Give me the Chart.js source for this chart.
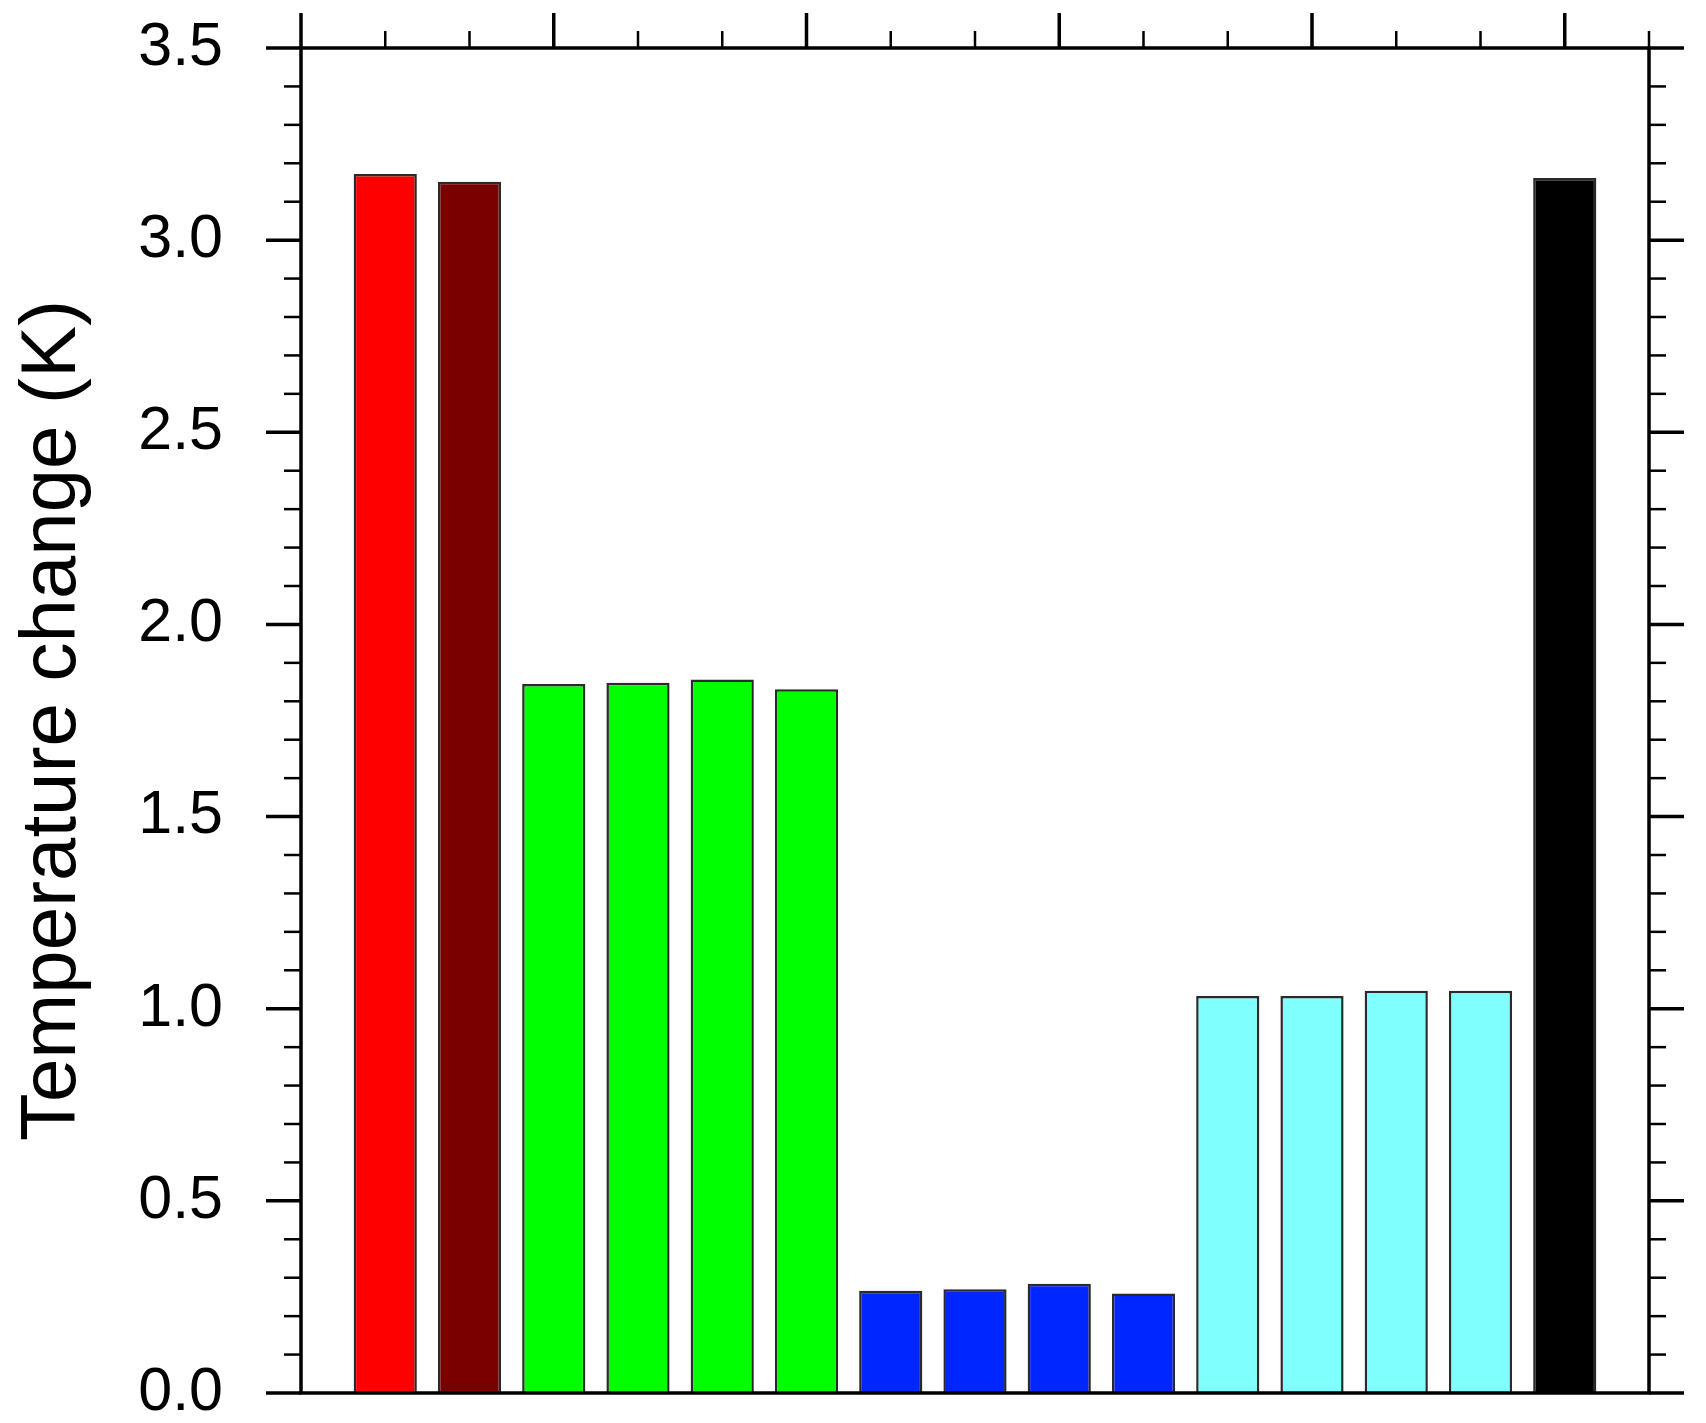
<!DOCTYPE html>
<html>
<head>
<meta charset="utf-8">
<script src="https://cdn.jsdelivr.net/npm/chart.js@4.4.0/dist/chart.umd.min.js"></script>
<style>
  body { margin: 0; background: #fff; }
</style>
</head>
<body>
<canvas id="myChart" width="1706" height="1423"></canvas>
<script>
// posiciones de las barras (eje x 0..16)
var positions = [1, 2, 3, 4, 5, 6, 7, 8, 9, 10, 11, 12, 13, 14, 15]
// cambio de temperatura (K)
var values = [3.172, 3.152, 1.845, 1.848, 1.857, 1.831, 0.266, 0.270, 0.284, 0.259, 1.033, 1.033, 1.047, 1.047, 3.162]
var barColors = ['#ff0000', '#7a0000',
    '#00ff00', '#00ff00', '#00ff00', '#00ff00',
    '#0026ff', '#0026ff', '#0026ff', '#0026ff',
    '#80ffff', '#80ffff', '#80ffff', '#80ffff',
    '#000000']
var yTickLabels = ['0.0', '0.5', '1.0', '1.5', '2.0', '2.5', '3.0', '3.5']
var xTickValues = [0, 1, 2, 3, 4, 5, 6, 7, 8, 9, 10, 11, 12, 13, 14, 15, 16]

Chart.defaults.font.family = "Liberation Sans";
Chart.defaults.color = "#000";

// marco con ticks mayores y menores (estilo NCL)
const frame = {
    id: 'frame',
    afterDraw(chart) {
        const ctx = chart.ctx
        const a = chart.chartArea
        const x = chart.scales.x
        const y = chart.scales.y
        ctx.save()
        ctx.strokeStyle = '#000'
        ctx.lineCap = 'butt'
        function seg(x1, y1, x2, y2) {
            ctx.beginPath(); ctx.moveTo(x1, y1); ctx.lineTo(x2, y2); ctx.stroke()
        }
        // eje y: izquierda y derecha
        for (var i = 0; i <= 35; i++) {
            var py = y.getPixelForValue(i / 10)
            var major = i % 5 === 0
            var len = major ? 35 : 17
            ctx.lineWidth = major ? 3.5 : 2.5
            seg(a.left - len, py, a.left, py)
            seg(a.right, py, a.right + len, py)
        }
        // eje x arriba
        xTickValues.forEach(function (v) {
            var px = x.getPixelForValue(v)
            var major = v % 3 === 0 && v < 16
            ctx.lineWidth = major ? 3.5 : 2.5
            seg(px, a.top, px, a.top - (major ? 35 : 17))
        })
        ctx.lineWidth = 3.5
        ctx.strokeRect(a.left, a.top, a.right - a.left, a.bottom - a.top)
        ctx.restore()
    }
}

const data = {
    datasets: [{
        data: positions.map(function (p, i) { return { x: p, y: values[i] } }),
        backgroundColor: barColors,
        borderColor: '#2a2a2a',
        borderWidth: 2.5,
        categoryPercentage: 1,
        barPercentage: 0.75
    }]
};

const opcions = {
    responsive: false,
    animation: false,
    layout: { padding: { left: 0, top: 48, right: 57, bottom: 30 } },
    plugins: {
        legend: { display: false },
        tooltip: { enabled: false }
    },
    scales: {
        x: {
            type: 'linear',
            display: false,
            offset: false,
            min: 0,
            max: 16,
            ticks: { stepSize: 1 }
        },
        y: {
            min: 0,
            max: 3.5,
            afterFit: function (scale) {
                scale.width = 301
                scale.paddingTop = 0
                scale.paddingBottom = 0
            },
            border: { display: false },
            grid: { display: false, drawTicks: false },
            ticks: {
                stepSize: 0.5,
                padding: 78,
                font: { size: 61 },
                color: '#000',
                callback: function (value, index) { return yTickLabels[Math.round(value * 2)] }
            },
            title: {
                display: true,
                text: 'Temperature change (K)',
                color: '#000',
                font: { size: 78 },
                padding: { top: 7, bottom: 0 }
            }
        }
    }
}

var chart = new Chart(document.getElementById('myChart'), {
    type: 'bar',
    data: data,
    options: opcions,
    plugins: [frame]
});
</script>
</body>
</html>
